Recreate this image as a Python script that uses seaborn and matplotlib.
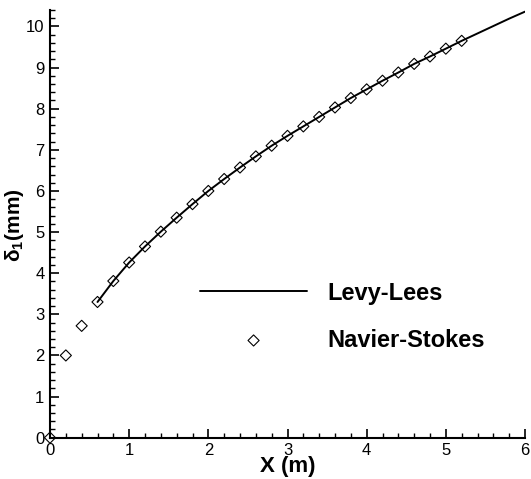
import matplotlib
matplotlib.use("Agg")
import matplotlib.pyplot as plt
import seaborn as sns
import pandas as pd
from matplotlib.ticker import MultipleLocator

# Navier-Stokes (diamonds)
ns_x = [0.0, 0.2, 0.4, 0.6, 0.8, 1.0, 1.2, 1.4, 1.6, 1.8, 2.0, 2.2, 2.4, 2.6, 2.8,
        3.0, 3.2, 3.4, 3.6, 3.8, 4.0, 4.2, 4.4, 4.6, 4.8, 5.0, 5.2]
ns_y = [0.0, 2.0, 2.72, 3.30, 3.81, 4.26, 4.65, 5.01, 5.35, 5.68, 6.0, 6.29, 6.57,
        6.84, 7.10, 7.34, 7.57, 7.80, 8.03, 8.26, 8.47, 8.68, 8.88, 9.09, 9.27, 9.46, 9.65]

# Levy-Lees (line)
ll_x = [0.6, 0.8, 1.0, 1.2, 1.4, 1.6, 1.8, 2.0, 2.2, 2.4, 2.6, 2.8, 3.0, 3.2, 3.4,
        3.6, 3.8, 4.0, 4.2, 4.4, 4.6, 4.8, 5.0, 5.2, 5.4, 5.6, 5.8, 6.0]
ll_y = [3.30, 3.81, 4.26, 4.65, 5.01, 5.35, 5.68, 6.0, 6.29, 6.57, 6.84, 7.10, 7.34,
        7.57, 7.80, 8.03, 8.26, 8.47, 8.68, 8.88, 9.09, 9.27, 9.46, 9.65, 9.83, 10.01,
        10.19, 10.36]

sns.set_theme(style="ticks")
plt.rcParams["font.family"] = ["Liberation Sans", "DejaVu Sans"]
plt.rcParams["mathtext.fontset"] = "custom"
plt.rcParams["mathtext.rm"] = "Liberation Sans:bold"
plt.rcParams["mathtext.default"] = "rm"
plt.rcParams["text.color"] = "black"
plt.rcParams["axes.labelcolor"] = "black"

fig = plt.figure(figsize=(5.31, 4.79), dpi=100)
ax = fig.add_axes([50 / 531, 41.3 / 479, 475 / 531, 427.7 / 479])

ll_df = pd.DataFrame({"x": ll_x, "y": ll_y})
ns_df = pd.DataFrame({"x": ns_x, "y": ns_y})

sns.lineplot(data=ll_df, x="x", y="y", ax=ax, color="black", linewidth=1.4,
             label="Levy-Lees", sort=False)
sns.scatterplot(data=ns_df, x="x", y="y", ax=ax, marker="D", s=32,
                facecolors="none", edgecolors="black", linewidths=0.8,
                label="Navier-Stokes", clip_on=False, zorder=3)

ax.set_xlim(0, 6)
ax.set_ylim(0, 10.4)
ax.xaxis.set_major_locator(MultipleLocator(1))
ax.xaxis.set_minor_locator(MultipleLocator(0.2))
ax.yaxis.set_major_locator(MultipleLocator(1))
ax.yaxis.set_minor_locator(MultipleLocator(0.2))

for s in ["top", "right"]:
    ax.spines[s].set_visible(False)
for s in ["left", "bottom"]:
    ax.spines[s].set_linewidth(1.5)
    ax.spines[s].set_color("black")

ax.tick_params(which="major", direction="in", length=6.5, width=1.2,
               labelsize=12, pad=4, colors="black")
ax.tick_params(which="minor", direction="in", length=3.5, width=1.0, colors="black")

ax.set_xlabel("X (m)", fontsize=16, fontweight="bold")
ax.xaxis.set_label_coords(0.5, -0.043)
ax.xaxis.label.set_va("top")
ax.set_ylabel(r"δ$_1$(mm)", fontsize=15, fontweight="bold")
ax.yaxis.set_label_coords(-0.05, 0.496)

leg = ax.legend(loc="upper left", bbox_to_anchor=(0.316, 0.365), frameon=False,
                prop={"family": "Liberation Sans", "weight": "bold", "size": 17},
                handlelength=4.53, handletextpad=0.85, labelspacing=1.02,
                borderpad=0, borderaxespad=0, labelcolor="black")

fig.savefig("out.png", dpi=100)
